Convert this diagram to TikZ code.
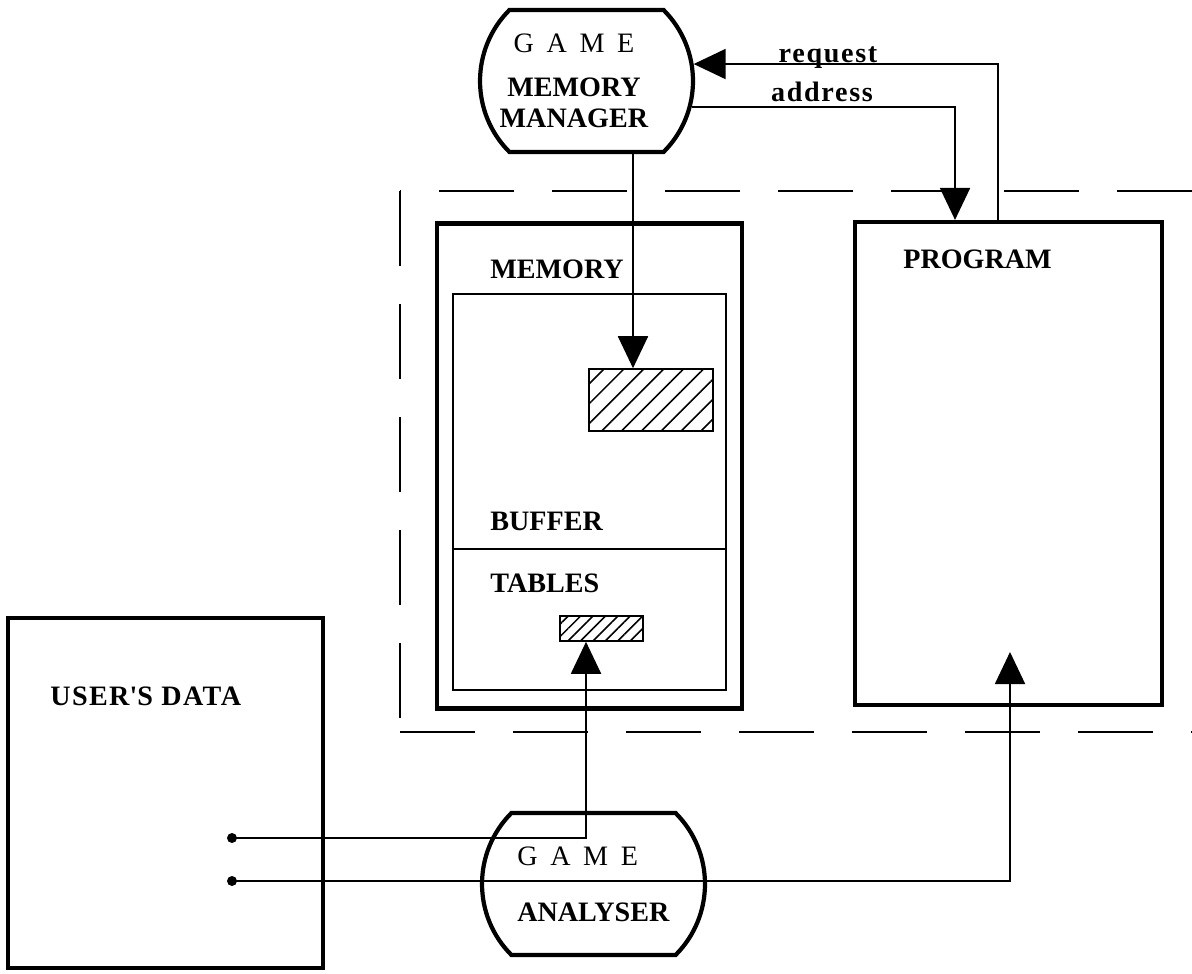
\documentclass[tikz,border=0pt]{standalone}
\usepackage{fontspec}
\setmainfont{Liberation Serif}
\usetikzlibrary{arrows.meta,shapes.misc,patterns.meta,positioning}
\newcommand\gamelbl{G\hspace{.45em}A\hspace{.45em}M\hspace{.45em}E}
\tikzset{
  box/.style={draw, line width=2.4pt, inner sep=0pt},
  part/.style={draw, line width=1pt, inner sep=0pt, minimum width=5.46cm},
  proc/.style={draw, line width=2.4pt, rounded rectangle, rounded rectangle arc length=90,
    minimum height=2.84cm, inner sep=0pt, font=\fontsize{16}{18}\selectfont},
  slot/.style={draw, line width=1pt, inner sep=0pt,
    pattern={Lines[angle=45,distance=#1,line width=0.9pt]}},
  lbl/.style={anchor=base west, inner sep=0pt, font=\fontsize{16}{18}\selectfont\bfseries},
  note/.style={anchor=base, inner sep=0pt,
    font=\fontsize{16}{18}\selectfont\bfseries\addfontfeature{LetterSpace=6}},
  frame/.style={line width=1.4pt, dash pattern=on 1.5cm off 0.76cm},
  wire/.style={line width=1.1pt},
  arr/.style={wire, -{Triangle[length=0.64cm,width=0.6cm]}},
  dot/.style={circle, fill, inner sep=0pt, minimum size=0.2cm}
}
\begin{document}
\begin{tikzpicture}[x=0.02cm, y=-0.02cm]
  \useasboundingbox (0,0) rectangle (1192,973);
  % dashed frame
  \draw[frame] (1192,191) -- (400,191);
  \draw[frame] (400,191) -- (400,732);
  \draw[frame] (400,732) -- (1192,732);
  % boxes
  \node[proc, minimum width=4.26cm, align=center] (mm) at (586.5,81)
    {\hspace*{-0.5cm}\gamelbl\\[7pt]\hspace*{-0.5cm}\textbf{MEMORY}\\\hspace*{-0.5cm}\textbf{MANAGER}};
  \node[box, minimum width=6.1cm, minimum height=9.7cm] (mem) at (589.5,466) {};
  \node[part, minimum height=5.1cm] (buf) at (589.5,421.5) {};
  \node[part, minimum height=2.82cm] (tab) at (589.5,619.5) {};
  \node[slot=8pt, minimum width=2.48cm, minimum height=1.24cm] (bufslot) at (651,400) {};
  \node[slot=5pt, minimum width=1.66cm, minimum height=0.5cm] (tabslot) at (601.5,628.5) {};
  \node[box, minimum width=6.14cm, minimum height=9.66cm] (prog) at (1008.5,463.5) {};
  \node[box, minimum width=6.3cm, minimum height=7cm] (user) at (165.5,793) {};
  \node[proc, minimum width=4.46cm, align=left] (ana) at (593.5,884)
    {\gamelbl\\[14pt]\textbf{ANALYSER}};
  % labels
  \node[lbl] (memlbl) at (490,278) {MEMORY};
  \node[lbl] (buflbl) at (490,530) {BUFFER};
  \node[lbl] (tablbl) at (490,592) {TABLES};
  \node[lbl] (proglbl) at (903,268) {PROGRAM};
  \node[lbl] (userlbl) at (50,705) {\addfontfeature{LetterSpace=5}USER\textquotesingle S DATA};
  \node[note] (req) at (828,63) {request};
  \node[note] (adr) at (822,102) {address};
  % connectors
  \node[dot] (d1) at (232,838) {};
  \node[dot] (d2) at (232,881) {};
  \coordinate (progin) at (1010,652);
  \draw[arr] ([xshift=-0.21cm]prog.north) |- (mm.9);
  \draw[arr] (mm.-14) -| ([xshift=-1.07cm]prog.north);
  \draw[arr] ([xshift=0.93cm]mm.south) -- ([xshift=0.93cm]mm.south |- bufslot.north);
  \draw[arr] (d1.center) -| ([xshift=-0.31cm]tabslot.south);
  \draw[arr] (d2.center) -| (progin);
\end{tikzpicture}
\end{document}
